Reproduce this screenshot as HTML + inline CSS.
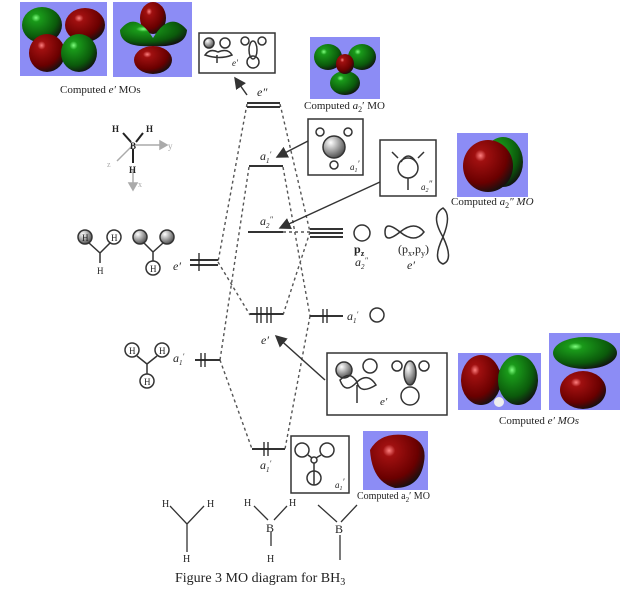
<!DOCTYPE html>
<html><head><style>
html,body{margin:0;padding:0;background:#fff;width:622px;height:599px;overflow:hidden}
svg{display:block}
text{font-family:"Liberation Serif",serif;fill:#222}
.s{stroke:#333;fill:none;stroke-width:1.5}
.d{stroke:#555;fill:none;stroke-width:1.4;stroke-dasharray:3,3}
.l{stroke:#333;stroke-width:2}
</style></head><body>
<svg width="622" height="599" viewBox="0 0 622 599">
<defs>
<radialGradient id="r" cx="35%" cy="30%" r="75%"><stop offset="0" stop-color="#ff8080"/><stop offset="0.15" stop-color="#a01010"/><stop offset="0.7" stop-color="#6a0000"/><stop offset="1" stop-color="#111"/></radialGradient>
<radialGradient id="g" cx="35%" cy="30%" r="75%"><stop offset="0" stop-color="#80ff80"/><stop offset="0.15" stop-color="#1a9a1a"/><stop offset="0.7" stop-color="#0b5a0b"/><stop offset="1" stop-color="#111"/></radialGradient>
<radialGradient id="w" cx="35%" cy="30%" r="70%"><stop offset="0" stop-color="#fff"/><stop offset="1" stop-color="#555"/></radialGradient>
<marker id="a" markerWidth="8" markerHeight="8" refX="7" refY="4" orient="auto"><path d="M0,0L8,4L0,8z" fill="#333"/></marker>
</defs>
<!-- computed MO panels -->
<rect x="20" y="2" width="87" height="74" fill="#8c8cf5"/>
<ellipse cx="42" cy="25" rx="20" ry="18" fill="url(#g)"/><ellipse cx="85" cy="25" rx="20" ry="17" fill="url(#r)"/>
<ellipse cx="47" cy="53" rx="18" ry="19" fill="url(#r)"/><ellipse cx="79" cy="53" rx="18" ry="19" fill="url(#g)"/>
<rect x="113" y="2" width="79" height="75" fill="#8c8cf5"/>
<ellipse cx="153" cy="18" rx="13" ry="16" fill="url(#r)"/><path d="M120,30 Q135,10 153,38 Q170,10 187,30 Q186,48 153,46 Q120,48 120,30z" fill="url(#g)"/><ellipse cx="153" cy="60" rx="19" ry="14" fill="url(#r)"/>
<text x="60" y="93" font-size="11">Computed <tspan font-style="italic">e′</tspan> MOs</text>
<rect x="310" y="37" width="70" height="62" fill="#8c8cf5"/>
<ellipse cx="328" cy="57" rx="14" ry="13" fill="url(#g)"/><ellipse cx="362" cy="57" rx="14" ry="13" fill="url(#g)"/><ellipse cx="345" cy="83" rx="15" ry="12" fill="url(#g)"/><ellipse cx="345" cy="64" rx="9" ry="10" fill="url(#r)"/>
<text x="304" y="109" font-size="11">Computed <tspan font-style="italic">a</tspan><tspan font-size="8" dy="3">2</tspan><tspan dy="-3">′ MO</tspan></text>
<rect x="457" y="133" width="71" height="64" fill="#8c8cf5"/>
<ellipse cx="503" cy="162" rx="20" ry="25" fill="url(#g)"/><ellipse cx="488" cy="166" rx="25" ry="26" fill="url(#r)"/>
<text x="451" y="205" font-size="11">Computed <tspan font-style="italic">a</tspan><tspan font-size="8" dy="3">2</tspan><tspan dy="-3" font-style="italic">″ MO</tspan></text>
<rect x="458" y="353" width="83" height="57" fill="#8c8cf5"/>
<ellipse cx="481" cy="380" rx="20" ry="25" fill="url(#r)"/><ellipse cx="518" cy="380" rx="20" ry="25" fill="url(#g)"/><circle cx="499" cy="402" r="5" fill="#eee"/>
<rect x="549" y="333" width="71" height="77" fill="#8c8cf5"/>
<ellipse cx="585" cy="353" rx="32" ry="16" fill="url(#g)"/><ellipse cx="583" cy="390" rx="23" ry="19" fill="url(#r)"/>
<text x="499" y="424" font-size="11">Computed <tspan font-style="italic">e′ MOs</tspan></text>
<rect x="363" y="431" width="65" height="59" fill="#8c8cf5"/>
<path d="M370,450 Q380,432 405,435 Q428,440 424,462 Q420,488 395,488 Q372,482 370,450z" fill="url(#r)"/>
<text x="357" y="499" font-size="10">Computed a<tspan font-size="7" dy="3">2</tspan><tspan dy="-3">′ MO</tspan></text>
<!-- axes -->
<g stroke="#aaa" stroke-width="1.5" fill="#aaa"><line x1="133" y1="145" x2="160" y2="145"/><path d="M160,141L167,145L160,149z"/><line x1="133" y1="145" x2="117" y2="161"/><line x1="133" y1="170" x2="133" y2="185"/><path d="M129,183L133,190L137,183z"/></g>
<text x="168" y="149" font-size="9" fill="#aaa" style="fill:#aaa">y</text><text x="107" y="167" font-size="8" style="fill:#aaa">z</text><text x="138" y="187" font-size="8" style="fill:#aaa">x</text>
<g stroke="#222" stroke-width="2"><line x1="123" y1="133" x2="131" y2="142"/><line x1="143" y1="133" x2="136" y2="142"/><line x1="133" y1="149" x2="133" y2="163"/></g>
<g font-family="Liberation Sans" font-weight="bold" font-size="9"><text x="112" y="132">H</text><text x="146" y="132">H</text><text x="130" y="149">B</text><text x="129" y="173">H</text></g>
<!-- dashed correlation lines -->
<path class="d" d="M247,104L218,262M280,104L310,232M218,262L250,315M310,232L283,315M249,167L220,360M283,167L310,316M220,360L252,449M310,316L285,449M283,232L310,232"/>
<!-- levels -->
<g class="l"><line x1="247" y1="103" x2="280" y2="103"/><line x1="247" y1="107" x2="280" y2="107"/>
<line x1="249" y1="166" x2="283" y2="166"/><line x1="248" y1="232" x2="283" y2="232"/>
<line x1="250" y1="314" x2="283" y2="314"/><line x1="252" y1="449" x2="285" y2="449"/>
<line x1="190" y1="260" x2="218" y2="260"/><line x1="190" y1="265" x2="218" y2="265"/>
<line x1="195" y1="360" x2="220" y2="360"/>
<line x1="310" y1="229" x2="343" y2="229"/><line x1="310" y1="233" x2="343" y2="233"/><line x1="310" y1="237" x2="343" y2="237"/>
<line x1="310" y1="316" x2="343" y2="316"/></g>
<g stroke="#222" stroke-width="1.3"><path d="M257,307v16M261,307v16M267,307v16M271,307v16M264,442v14M268,442v14M199,253v18M201,353v14M205,353v14M323,309v14M327,309v14"/></g>
<g font-style="italic" font-size="12"><text x="257" y="96">e″</text><text x="260" y="160">a<tspan font-size="7" dy="3">1</tspan><tspan dy="-6" font-size="8">′</tspan></text>
<text x="260" y="225">a<tspan font-size="7" dy="3">2</tspan><tspan dy="-6" font-size="8">″</tspan></text>
<text x="261" y="344">e′</text><text x="260" y="469">a<tspan font-size="7" dy="3">1</tspan><tspan dy="-6" font-size="8">′</tspan></text>
<text x="173" y="270">e′</text><text x="173" y="362">a<tspan font-size="7" dy="3">1</tspan><tspan dy="-6" font-size="8">′</tspan></text>
<text x="347" y="320">a<tspan font-size="7" dy="3">1</tspan><tspan dy="-6" font-size="8">′</tspan></text>
<text x="355" y="266">a<tspan font-size="7" dy="3">2</tspan><tspan dy="-6" font-size="8">″</tspan></text><text x="407" y="269">e′</text></g>
<text x="354" y="253" font-size="12" font-weight="bold">p<tspan font-size="8" dy="3">z</tspan></text>
<text x="398" y="253" font-size="12">(p<tspan font-size="8" dy="3">x</tspan><tspan dy="-3">,p</tspan><tspan font-size="8" dy="3">y</tspan><tspan dy="-3">)</tspan></text>
<circle cx="377" cy="315" r="7" class="s"/>
<circle cx="362" cy="233" r="8" class="s"/>
<path class="s" d="M400,232 Q385,220 385,232 Q385,244 400,232 Q415,220 424,232 Q415,244 400,232z"/>
<path class="s" d="M443,237 Q430,215 443,208 Q452,215 443,237 Q432,260 443,264 Q454,260 443,237z"/>
<!-- left H3 fragments -->
<g class="s"><circle cx="85" cy="237" r="7" fill="url(#w)"/><circle cx="114" cy="237" r="7"/><path d="M89,243L100,253L110,243M100,253v10"/>
<circle cx="140" cy="237" r="7" fill="url(#w)"/><circle cx="167" cy="237" r="7" fill="url(#w)"/><circle cx="153" cy="268" r="7"/><path d="M144,243L153,252L163,243M153,252v9"/>
<circle cx="132" cy="350" r="7"/><circle cx="162" cy="350" r="7"/><circle cx="147" cy="381" r="7"/><path d="M137,356L147,364L157,356M147,364v10"/></g>
<g font-family="Liberation Sans" font-size="9"><text x="82" y="241">H</text><text x="111" y="241">H</text><text x="97" y="274">H</text><text x="150" y="272">H</text><text x="129" y="354">H</text><text x="159" y="354">H</text><text x="144" y="385">H</text></g>
<!-- boxes -->
<g class="s"><rect x="199" y="33" width="76" height="40"/><rect x="308" y="119" width="55" height="56"/><rect x="380" y="140" width="56" height="56"/><rect x="327" y="353" width="120" height="62"/><rect x="291" y="436" width="58" height="57"/></g>
<g class="s" stroke-width="1.2"><circle cx="209" cy="43" r="5" fill="url(#w)"/><circle cx="225" cy="43" r="5"/><path d="M205,55 Q210,48 218,52 Q228,48 232,55 Q220,60 205,55z M217,55v8"/>
<circle cx="245" cy="41" r="4"/><circle cx="262" cy="41" r="4"/><ellipse cx="253" cy="50" rx="4" ry="9"/><circle cx="253" cy="62" r="6"/>
<circle cx="334" cy="147" r="11" fill="url(#w)"/><circle cx="320" cy="132" r="4"/><circle cx="348" cy="132" r="4"/><circle cx="334" cy="165" r="4"/>
<circle cx="408" cy="168" r="10"/><path d="M398,158L392,152M418,158L424,152M408,178v12M401,162 Q408,150 416,162"/>
<circle cx="344" cy="370" r="8" fill="url(#w)"/><circle cx="370" cy="366" r="7"/><path d="M340,380 Q350,370 357,382 Q368,372 376,385 Q360,395 357,382 Q345,395 340,380z M357,385v18"/>
<circle cx="397" cy="366" r="5"/><circle cx="424" cy="366" r="5"/><ellipse cx="410" cy="373" rx="6" ry="12" fill="url(#w)"/><circle cx="410" cy="396" r="9"/>
<circle cx="302" cy="450" r="7"/><circle cx="327" cy="450" r="7"/><circle cx="314" cy="460" r="3"/><circle cx="314" cy="478" r="7"/><path d="M308,455L312,458M321,455L316,458M314,463v22"/></g>
<g font-style="italic" font-size="9"><text x="232" y="66">e′</text><text x="350" y="170">a<tspan font-size="6" dy="2">1</tspan><tspan dy="-5">′</tspan></text><text x="421" y="190">a<tspan font-size="6" dy="2">2</tspan><tspan dy="-5">″</tspan></text><text x="380" y="405" font-size="11">e′</text><text x="335" y="488">a<tspan font-size="6" dy="2">1</tspan><tspan dy="-5">′</tspan></text></g>
<!-- arrows -->
<g stroke="#333" stroke-width="1.5" marker-end="url(#a)"><line x1="247" y1="95" x2="235" y2="78"/><line x1="308" y1="141" x2="277" y2="157"/><line x1="380" y1="182" x2="280" y2="228"/><line x1="325" y1="380" x2="276" y2="336"/></g>
<!-- bottom structures -->
<g stroke="#333" stroke-width="1.3" fill="none"><path d="M170,506L187,524L204,506M187,524v28M254,506L268,520M287,506L274,520M271,532v14M318,505L337,522M357,505L341,522M340,535v25"/></g>
<g font-family="Liberation Sans" font-size="10"><text x="162" y="507">H</text><text x="207" y="507">H</text><text x="183" y="562">H</text><text x="244" y="506">H</text><text x="289" y="506">H</text><text x="267" y="562">H</text></g>
<text x="266" y="532" font-size="12">B</text><text x="335" y="533" font-size="12">B</text>
<text x="175" y="582" font-size="14">Figure 3 MO diagram for BH<tspan font-size="10" dy="3">3</tspan></text>
</svg>
</body></html>
